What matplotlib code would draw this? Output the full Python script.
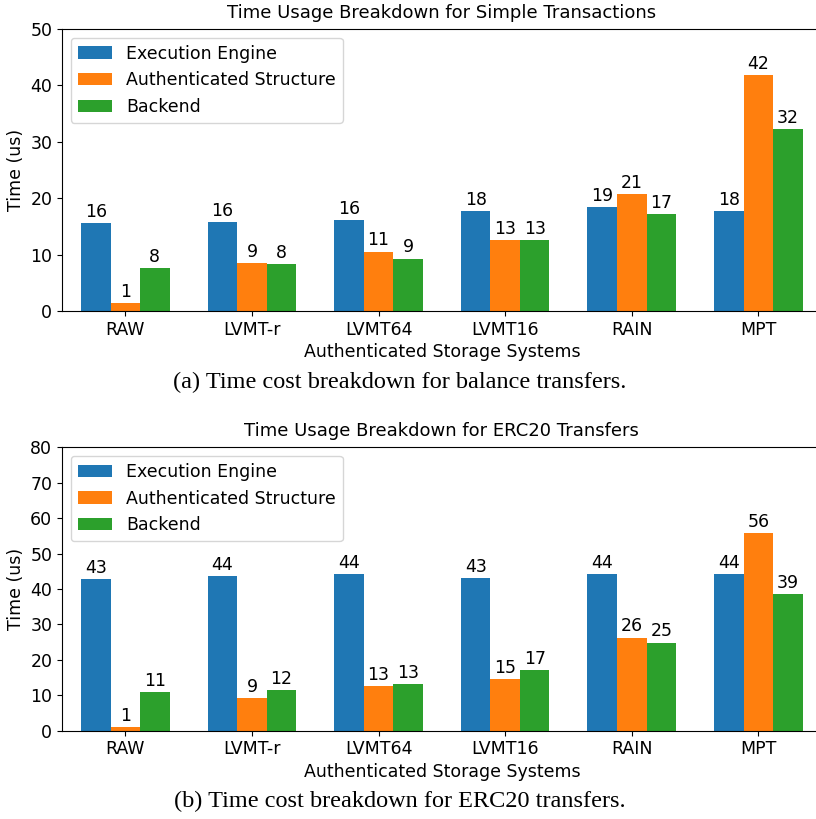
import numpy as np
import matplotlib
matplotlib.use("Agg")
import matplotlib.pyplot as plt

plt.rcParams["font.family"] = "DejaVu Sans"

systems = ["RAW", "LVMT-r", "LVMT64", "LVMT16", "RAIN", "MPT"]
series = ["Execution Engine", "Authenticated Structure", "Backend"]

# (a) simple transactions
simple_engine = [15.6, 15.9, 16.25, 17.7, 18.55, 17.7]
simple_auth = [1.47, 8.55, 10.6, 12.6, 20.85, 41.9]
simple_backend = [7.65, 8.45, 9.36, 12.6, 17.3, 32.3]

# (b) ERC20 transfers
erc_engine = [42.8, 43.7, 44.3, 43.1, 44.2, 44.2]
erc_auth = [1.05, 9.3, 12.6, 14.7, 26.3, 55.9]
erc_backend = [11.0, 11.6, 13.3, 17.2, 24.9, 38.6]

FS = 12.5
colors = ["#1f77b4", "#ff7f0e", "#2ca02c"]

fig = plt.figure(figsize=(8.16, 8.19), dpi=100)


def draw(ax, data, title, ymax, caption):
    x = np.arange(len(systems))
    w = 0.7 / 3
    for i, (vals, name) in enumerate(zip(data, series)):
        bars = ax.bar(x + (i - 1) * w, vals, w, label=name, color=colors[i])
        for b, v in zip(bars, vals):
            ax.annotate(f"{v:.0f}", (b.get_x() + b.get_width() / 2, v),
                        xytext=(0, 1.5), textcoords="offset points",
                        ha="center", va="bottom", fontsize=FS)
    ax.set_xticks(x)
    ax.set_xticklabels(systems, fontsize=FS)
    ax.tick_params(axis="y", labelsize=FS)
    ax.set_xlim(-0.5, 5.5)
    ax.set_ylim(0, ymax)
    ax.set_title(title, fontsize=FS + 0.5, pad=8)
    ax.set_ylabel("Time (us)", fontsize=FS)
    ax.set_xlabel("Authenticated Storage Systems", fontsize=FS, labelpad=3)
    ax.legend(loc="upper left", fontsize=FS)
    ax.text(0.445, -0.25, caption, transform=ax.transAxes, ha="center",
            va="center", fontsize=17.5, family="Liberation Serif")


ax1 = fig.add_axes([0.076, 0.6197, 0.931, 0.345])
draw(ax1, [simple_engine, simple_auth, simple_backend],
     "Time Usage Breakdown for Simple Transactions", 50,
     "(a) Time cost breakdown for balance transfers.")

ax2 = fig.add_axes([0.076, 0.1078, 0.931, 0.346])
draw(ax2, [erc_engine, erc_auth, erc_backend],
     "Time Usage Breakdown for ERC20 Transfers", 80,
     "(b) Time cost breakdown for ERC20 transfers.")

fig.savefig("out.png", dpi=100)
